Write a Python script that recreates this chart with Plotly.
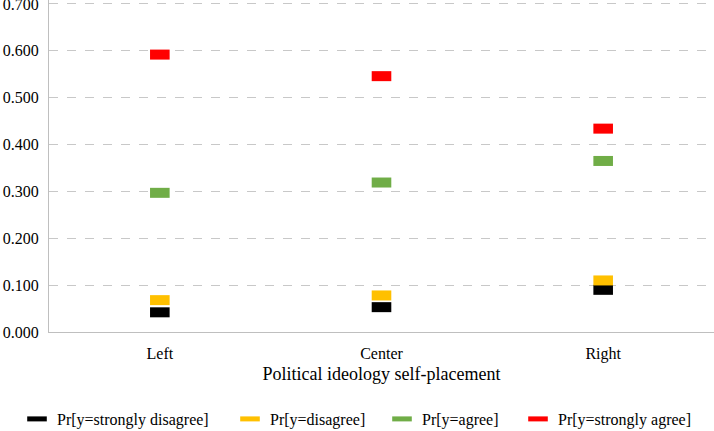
import plotly.graph_objects as go

categories = ["Left", "Center", "Right"]
strongly_disagree = [0.042, 0.053, 0.090]
disagree = [0.068, 0.078, 0.110]
agree = [0.297, 0.319, 0.365]
strongly_agree = [0.592, 0.546, 0.434]
y_ticks = [0.0, 0.1, 0.2, 0.3, 0.4, 0.5, 0.6, 0.7]

series = [
    ("Pr[y=strongly disagree]", strongly_disagree, "#000000"),
    ("Pr[y=disagree]", disagree, "#FFC000"),
    ("Pr[y=agree]", agree, "#70AD47"),
    ("Pr[y=strongly agree]", strongly_agree, "#FF0000"),
]
legend_text_px = [52, 265, 417, 553]

font = "Liberation Serif, Times New Roman, serif"
PLOT_L, PLOT_W, PLOT_B, PLOT_H = 49, 665, 332, 332

fig = go.Figure()
layout_legends = {}
for i, (name, vals, color) in enumerate(series):
    lg = "legend" if i == 0 else f"legend{i+1}"
    fig.add_trace(go.Scatter(
        x=categories, y=vals, name=name, mode="markers", legend=lg,
        marker=dict(symbol="line-ew-open", size=14, color=color,
                    line=dict(color=color, width=10)),
    ))
    layout_legends[lg] = dict(
        orientation="h", x=(legend_text_px[i] - 35 - PLOT_L) / PLOT_W, xanchor="left",
        y=-(402 - PLOT_B) / PLOT_H, yanchor="top",
        font=dict(family=font, size=16, color="#000000"),
        itemwidth=30, bgcolor="rgba(0,0,0,0)",
    )

fig.update_layout(
    width=714, height=431,
    margin=dict(l=49, r=0, t=0, b=99, autoexpand=False),
    paper_bgcolor="white", plot_bgcolor="white",
    font=dict(family=font, size=16, color="#000000"),
    showlegend=True,
    xaxis=dict(
        type="category", range=[-0.5, 2.5], showgrid=False, showline=True,
        linecolor="#BFBFBF", linewidth=1,
        ticks="", tickfont=dict(family=font, size=16, color="#000000"),
        ticklabelstandoff=7,
        title=dict(text="Political ideology self-placement",
                   font=dict(family=font, size=18, color="#000000"), standoff=5),
    ),
    yaxis=dict(
        range=[0, 0.7085], tickvals=y_ticks, tickformat=".3f",
        showgrid=True, gridcolor="#C8C8C8", griddash="dash", gridwidth=1,
        showline=True, linecolor="#BFBFBF", linewidth=1, zeroline=False,
        ticks="", tickfont=dict(family=font, size=16, color="#000000"),
        ticklabelstandoff=6, ticklabeloverflow="allow",
    ),
    **layout_legends,
)

fig.write_html("out.html", config={"displayModeBar": False},
               post_script="document.body.style.margin='0';document.body.style.overflow='hidden';")
